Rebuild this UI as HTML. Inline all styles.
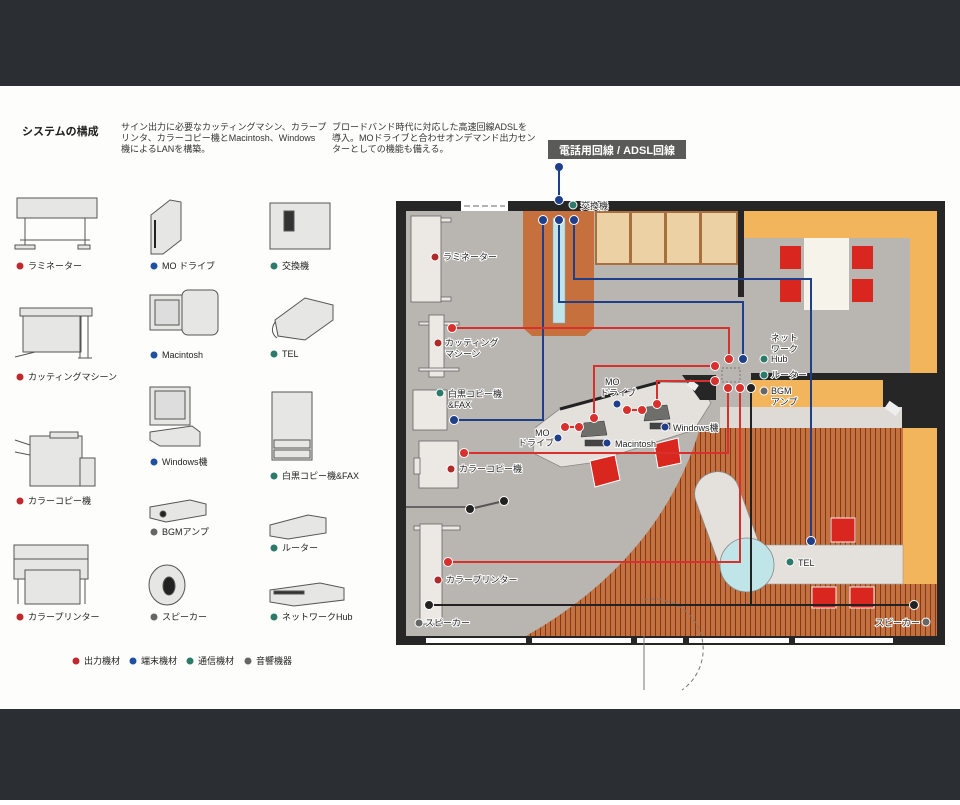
<!DOCTYPE html>
<html><head><meta charset="utf-8"><style>
html,body{margin:0;padding:0;background:#fff;}
body{width:960px;height:800px;overflow:hidden;font-family:"Liberation Sans","Noto Sans CJK JP",sans-serif;}
svg text{font-family:"Liberation Sans","Noto Sans CJK JP",sans-serif;}
</style></head><body>
<svg width="960" height="800" viewBox="0 0 960 800" xmlns="http://www.w3.org/2000/svg">
<defs>
<pattern id="wood" width="5" height="10" patternUnits="userSpaceOnUse">
<rect width="5" height="10" fill="#c5713f"/><rect x="0" width="1" height="10" fill="#7e3a1c"/>
</pattern>
</defs>
<rect x="0" y="0" width="960" height="86" fill="#2b2e33"/>
<rect x="0" y="709" width="960" height="91" fill="#2b2e33"/>
<rect x="0" y="86" width="960" height="623" fill="#fdfdfb"/>

<!-- header texts -->
<text x="22" y="135" font-size="11" font-weight="bold" fill="#222">システムの構成</text>
<g font-size="9" fill="#333">
<text x="121" y="130">サイン出力に必要なカッティングマシン、カラープ</text>
<text x="121" y="141">リンタ、カラーコピー機とMacintosh、Windows</text>
<text x="121" y="152">機によるLANを構築。</text>
<text x="332" y="130">ブロードバンド時代に対応した高速回線ADSLを</text>
<text x="332" y="141">導入。MOドライブと合わせオンデマンド出力セン</text>
<text x="332" y="152">ターとしての機能も備える。</text>
</g>

<!-- equipment icons -->
<g fill="#e6e6e4" stroke="#555" stroke-width="1">
<!-- laminator -->
<rect x="17" y="198" width="80" height="20"/><line x1="25" y1="218" x2="25" y2="248"/><line x1="85" y1="218" x2="85" y2="248"/><line x1="20" y1="240" x2="90" y2="240"/><rect x="15" y="245" width="20" height="4"/><rect x="78" y="245" width="12" height="4"/>
<!-- cutting machine -->
<rect x="20" y="308" width="72" height="8"/><rect x="23" y="316" width="58" height="36"/><line x1="80" y1="316" x2="80" y2="358"/><line x1="88" y1="316" x2="88" y2="358"/><line x1="15" y1="357" x2="35" y2="352"/><line x1="78" y1="358" x2="92" y2="358"/>
<!-- color copier -->
<rect x="30" y="436" width="52" height="50"/><rect x="80" y="458" width="15" height="28"/><rect x="50" y="432" width="28" height="6"/><line x1="15" y1="440" x2="30" y2="445"/><line x1="15" y1="452" x2="30" y2="455"/>
<!-- color printer -->
<rect x="14" y="545" width="74" height="14"/><rect x="14" y="559" width="74" height="20"/><rect x="25" y="570" width="55" height="34"/><line x1="18" y1="579" x2="18" y2="604"/><line x1="85" y1="579" x2="85" y2="604"/>
<!-- MO -->
<polygon points="151,215 170,200 181,202 181,240 163,254 151,254"/><line x1="155" y1="220" x2="155" y2="248" stroke="#222" stroke-width="2"/>
<!-- Mac -->
<rect x="150" y="295" width="35" height="35"/><rect x="155" y="300" width="24" height="25" fill="#ddd"/><rect x="182" y="290" width="36" height="45" rx="6"/>
<!-- windows -->
<rect x="150" y="387" width="40" height="38"/><rect x="155" y="391" width="30" height="28" fill="#ddd"/><polygon points="150,432 192,426 200,432 200,446 160,446 150,440"/>
<!-- BGM -->
<polygon points="150,507 190,500 206,504 206,515 166,522 150,518"/><circle cx="163" cy="514" r="3" fill="#222"/>
<!-- speaker -->
<ellipse cx="167" cy="585" rx="18" ry="20"/><ellipse cx="169" cy="586" rx="6" ry="9" fill="#222"/>
<!-- exchange -->
<rect x="270" y="203" width="60" height="46"/><rect x="284" y="211" width="10" height="20" fill="#333"/>
<!-- TEL -->
<polygon points="275,320 305,298 333,305 333,320 305,340 278,336"/><path d="M275 322 q-6 10 2 16" fill="none"/>
<!-- BW copier -->
<rect x="272" y="392" width="40" height="68"/><rect x="274" y="440" width="36" height="8"/><rect x="274" y="450" width="36" height="8"/>
<!-- router -->
<polygon points="270,525 308,515 326,518 326,533 288,539 270,536"/>
<!-- hub -->
<polygon points="270,590 320,583 344,588 344,600 294,606 270,602"/><rect x="274" y="591" width="30" height="3" fill="#333"/>
</g>

<!-- legend labels -->
<g font-size="9" fill="#222">
<circle cx="20" cy="266" r="3.5" fill="#c0282e"/><text x="28" y="269">ラミネーター</text>
<circle cx="20" cy="377" r="3.5" fill="#c0282e"/><text x="28" y="380">カッティングマシーン</text>
<circle cx="20" cy="501" r="3.5" fill="#c0282e"/><text x="28" y="504">カラーコピー機</text>
<circle cx="20" cy="617" r="3.5" fill="#c0282e"/><text x="28" y="620">カラープリンター</text>
<circle cx="154" cy="266" r="3.5" fill="#1f4f9f"/><text x="162" y="269">MO ドライブ</text>
<circle cx="154" cy="355" r="3.5" fill="#1f4f9f"/><text x="162" y="358">Macintosh</text>
<circle cx="154" cy="462" r="3.5" fill="#1f4f9f"/><text x="162" y="465">Windows機</text>
<circle cx="154" cy="532" r="3.5" fill="#666"/><text x="162" y="535">BGMアンプ</text>
<circle cx="154" cy="617" r="3.5" fill="#666"/><text x="162" y="620">スピーカー</text>
<circle cx="274" cy="266" r="3.5" fill="#2e7a6a"/><text x="282" y="269">交換機</text>
<circle cx="274" cy="354" r="3.5" fill="#2e7a6a"/><text x="282" y="357">TEL</text>
<circle cx="274" cy="476" r="3.5" fill="#2e7a6a"/><text x="282" y="479">白黒コピー機&amp;FAX</text>
<circle cx="274" cy="548" r="3.5" fill="#2e7a6a"/><text x="282" y="551">ルーター</text>
<circle cx="274" cy="617" r="3.5" fill="#2e7a6a"/><text x="282" y="620">ネットワークHub</text>
<circle cx="76" cy="661" r="3.5" fill="#c0282e"/><text x="84" y="664">出力機材</text>
<circle cx="133" cy="661" r="3.5" fill="#1f4f9f"/><text x="141" y="664">端末機材</text>
<circle cx="190" cy="661" r="3.5" fill="#2e7a6a"/><text x="198" y="664">通信機材</text>
<circle cx="248" cy="661" r="3.5" fill="#666"/><text x="256" y="664">音響機器</text>
</g>

<!-- line label -->
<rect x="548" y="140" width="138" height="19" fill="#5a5a58"/>
<text x="617" y="154" font-size="11" font-weight="bold" fill="#fff" text-anchor="middle">電話用回線 / ADSL回線</text>
<line x1="559" y1="167" x2="559" y2="200" stroke="#1f3f8a" stroke-width="2"/>
<circle cx="559" cy="167" r="4" fill="#1f3f8a"/>

<!-- floor plan -->
<rect x="396" y="201" width="549" height="444" fill="#262626"/>
<rect x="406" y="211" width="531" height="425" fill="#b9b6b1"/>
<rect x="461" y="201" width="47" height="10" fill="#fff"/>
<line x1="464" y1="206" x2="505" y2="206" stroke="#666" stroke-dasharray="6,3"/>
<!-- wood -->
<path d="M526 636 Q660 560 700 428 L903 428 L903 584 L937 584 L937 636 Z" fill="url(#wood)"/>
<!-- orange column -->
<polygon points="523,211 594,211 594,328 585,336 532,336 523,328" fill="#c6703d"/>
<rect x="553" y="218" width="12" height="105" fill="#bfe5e8" stroke="#8ab" stroke-width="0.5"/>
<!-- tan shelves -->
<rect x="595" y="211" width="143" height="54" fill="#a8703e"/>
<g fill="#ecd1a4"><rect x="597" y="213" width="32" height="50"/><rect x="632" y="213" width="32" height="50"/><rect x="667" y="213" width="32" height="50"/><rect x="702" y="213" width="34" height="50"/></g>
<!-- right upper orange area -->
<rect x="738" y="211" width="6" height="86" fill="#262626"/>
<rect x="744" y="211" width="193" height="162" fill="#f3b55c"/>
<rect x="744" y="238" width="166" height="135" fill="#b9b6b1"/>
<rect x="804" y="238" width="45" height="72" fill="#f6f3ea"/>
<g fill="#d9261f"><rect x="780" y="246" width="21" height="23"/><rect x="780" y="279" width="21" height="23"/><rect x="852" y="246" width="21" height="23"/><rect x="852" y="279" width="21" height="23"/></g>
<rect x="751" y="373" width="186" height="7" fill="#262626"/>
<rect x="883" y="380" width="54" height="48" fill="#262626"/>
<rect x="751" y="380" width="132" height="27" fill="#f3b55c"/>
<rect x="720" y="407" width="182" height="21" fill="#dedbd6"/>
<rect x="903" y="428" width="34" height="156" fill="#f3b55c"/>
<!-- left furniture -->
<g fill="#ece9e4" stroke="#666" stroke-width="0.8">
<rect x="411" y="216" width="30" height="86"/><rect x="441" y="218" width="10" height="4"/><rect x="441" y="297" width="10" height="4"/>
<rect x="419" y="322" width="40" height="3"/><rect x="429" y="315" width="15" height="62"/><rect x="419" y="368" width="40" height="3"/>
<rect x="413" y="390" width="34" height="40"/>
<rect x="419" y="441" width="39" height="47"/><rect x="414" y="458" width="6" height="16"/>
<rect x="414" y="526" width="46" height="4"/><rect x="420" y="524" width="22" height="100"/>
</g>
<line x1="406" y1="507" x2="470" y2="507" stroke="#666" stroke-width="2"/>
<!-- center desk -->
<polygon points="533,453 561,467 590,463 694,430 711,403 697,383 658,382 561,408 536,427" fill="#e4e1dc" stroke="#888" stroke-width="0.8"/>
<line x1="560" y1="409" x2="660" y2="382" stroke="#222" stroke-width="3"/>
<polygon points="682,375 716,375 716,400 700,400" fill="#262626"/>
<rect x="688" y="382" width="10" height="7" fill="#eee" transform="rotate(35 693 385)"/>
<rect x="886" y="404" width="14" height="9" fill="#eee" transform="rotate(35 893 408)"/>
<g fill="#6e6e6a" stroke="#333" stroke-width="0.5"><polygon points="584,423 604,421 607,435 581,437"/><polygon points="647,407 667,405 670,419 644,421"/><rect x="585" y="440" width="20" height="6" fill="#444"/><rect x="650" y="423" width="20" height="6" fill="#444"/></g>
<g fill="#d9261f" stroke="#fff" stroke-width="1"><polygon points="590,461 615,455 620,480 595,487"/><polygon points="654,444 678,438 681,463 658,468"/></g>
<!-- pill table + circle -->
<rect x="706" y="470" width="45" height="110" rx="22" fill="#e4e1dc" stroke="#888" stroke-width="0.8" transform="rotate(-20 728 525)"/>
<rect x="765" y="545" width="138" height="39" fill="#e4e1dc" stroke="#999" stroke-width="0.6"/>
<circle cx="747" cy="565" r="27" fill="#bfe5e8" stroke="#888" stroke-width="0.8"/>
<g fill="#d9261f" stroke="#eee" stroke-width="1"><rect x="831" y="518" width="24" height="24"/><rect x="812" y="587" width="24" height="21"/><rect x="850" y="587" width="24" height="21"/></g>
<!-- bottom windows -->
<g fill="#fff"><rect x="426" y="638" width="100" height="5"/><rect x="532" y="638" width="99" height="5"/><rect x="637" y="638" width="46" height="5"/><rect x="689" y="638" width="100" height="5"/><rect x="795" y="638" width="98" height="5"/></g>
<line x1="644" y1="636" x2="644" y2="690" stroke="#777"/>
<path d="M644 600 A50 50 0 0 1 682 690" fill="none" stroke="#777" stroke-dasharray="4,3"/>

<!-- blue lines -->
<g stroke="#1f3f8a" stroke-width="2" fill="none">
<polyline points="543,220 543,420 454,420"/>
<polyline points="559,220 559,302 743,302 743,359"/>
<polyline points="574,220 574,279 811,279 811,541"/>
</g>
<!-- red lines -->
<g stroke="#d8302c" stroke-width="2" fill="none">
<polyline points="452,328 729,328 729,359"/>
<polyline points="594,418 594,366 715,366"/>
<polyline points="657,404 657,381 715,381"/>
<polyline points="728,388 728,453 464,453"/>
<polyline points="740,388 740,562 448,562"/>
<line x1="565" y1="427" x2="579" y2="427"/><line x1="627" y1="410" x2="642" y2="410"/>
</g>
<!-- black lines -->
<g stroke="#222" stroke-width="2" fill="none">
<polyline points="751,388 751,605"/><line x1="429" y1="605" x2="914" y2="605"/>
<line x1="470" y1="509" x2="504" y2="501" stroke="#555"/>
</g>
<rect x="722" y="368" width="18" height="14" fill="none" stroke="#777" stroke-dasharray="2,2"/>

<!-- nodes -->
<g fill="#1f3f8a" stroke="#fff" stroke-width="1"><circle cx="559" cy="200" r="4.5"/><circle cx="543" cy="220" r="4.5"/><circle cx="559" cy="220" r="4.5"/><circle cx="574" cy="220" r="4.5"/><circle cx="454" cy="420" r="4.5"/><circle cx="743" cy="359" r="4.5"/><circle cx="811" cy="541" r="4.5"/>
<circle cx="617" cy="404" r="4"/><circle cx="558" cy="438" r="4"/><circle cx="607" cy="443" r="4"/><circle cx="665" cy="427" r="4"/></g>
<g fill="#d8302c" stroke="#fff" stroke-width="1"><circle cx="452" cy="328" r="4.5"/><circle cx="729" cy="359" r="4.5"/><circle cx="715" cy="366" r="4.5"/><circle cx="715" cy="381" r="4.5"/><circle cx="728" cy="388" r="4.5"/><circle cx="740" cy="388" r="4.5"/><circle cx="464" cy="453" r="4.5"/><circle cx="448" cy="562" r="4.5"/><circle cx="594" cy="418" r="4.5"/><circle cx="657" cy="404" r="4.5"/><circle cx="565" cy="427" r="4.5"/><circle cx="579" cy="427" r="4.5"/><circle cx="627" cy="410" r="4.5"/><circle cx="642" cy="410" r="4.5"/></g>
<g fill="#222" stroke="#fff" stroke-width="1"><circle cx="751" cy="388" r="4.5"/><circle cx="429" cy="605" r="4.5"/><circle cx="914" cy="605" r="4.5"/><circle cx="470" cy="509" r="4.5"/><circle cx="504" cy="501" r="4.5"/></g>

<!-- floor labels -->
<g font-size="9" fill="#222" stroke="#fff" stroke-width="2" paint-order="stroke">
<text x="581" y="209">交換機</text>
<text x="443" y="260">ラミネーター</text>
<text x="445" y="346">カッティング</text><text x="445" y="357">マシーン</text>
<text x="448" y="397">白黒コピー機</text><text x="448" y="408">&amp;FAX</text>
<text x="459" y="472">カラーコピー機</text>
<text x="446" y="583">カラープリンター</text>
<text x="425" y="626">スピーカー</text>
<text x="920" y="626" text-anchor="end">スピーカー</text>
<text x="771" y="341">ネット</text><text x="771" y="352">ワーク</text><text x="771" y="362">Hub</text>
<text x="771" y="378">ルーター</text>
<text x="771" y="394">BGM</text><text x="771" y="405">アンプ</text>
<text x="605" y="385">MO</text><text x="600" y="396">ドライブ</text>
<text x="535" y="436">MO</text><text x="518" y="446">ドライブ</text>
<text x="615" y="447">Macintosh</text>
<text x="673" y="431">Windows機</text>
<text x="798" y="566">TEL</text>
</g>
<g fill="#2e7a6a" stroke="#fff" stroke-width="1"><circle cx="573" cy="205" r="4"/><circle cx="440" cy="393" r="4"/><circle cx="764" cy="359" r="4"/><circle cx="764" cy="375" r="4"/><circle cx="790" cy="562" r="4"/></g>
<g fill="#666" stroke="#fff" stroke-width="1"><circle cx="764" cy="391" r="4"/><circle cx="419" cy="623" r="4"/><circle cx="926" cy="622" r="4"/></g>
<g fill="#b02a2a" stroke="#fff" stroke-width="1"><circle cx="435" cy="257" r="4"/><circle cx="438" cy="343" r="4"/><circle cx="451" cy="469" r="4"/><circle cx="438" cy="580" r="4"/></g>
</svg>
</body></html>
